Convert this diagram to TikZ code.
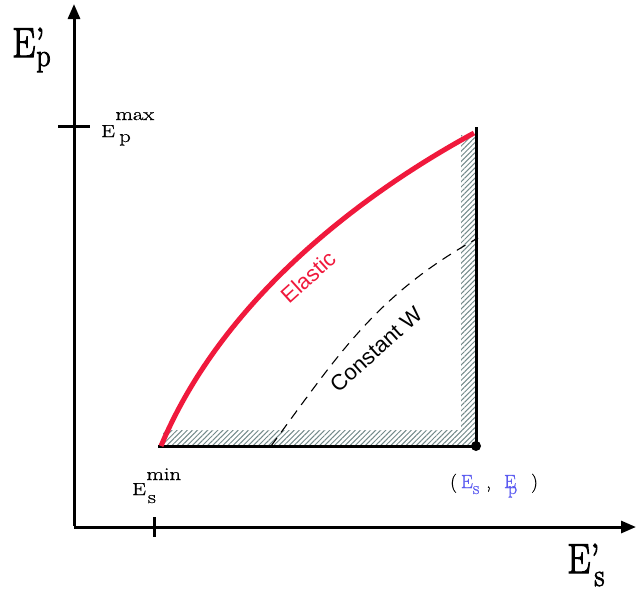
\RequirePackage{fix-cm}
\documentclass[tikz,border=0pt]{standalone}
\usepackage{fontspec}
\setmainfont{Latin Modern Roman}[FakeBold=0.8]
\newfontfamily\heavyrm{Latin Modern Roman}[FakeBold=2.5]
\newfontfamily\plotsans{Liberation Sans}
\usepackage{tikz}
\usetikzlibrary{arrows.meta,patterns.meta}
\definecolor{elasticred}{RGB}{240,25,60}
\definecolor{pointblue}{RGB}{90,90,240}
\definecolor{hatchgray}{RGB}{115,138,138}
\newcommand{\fsz}[1]{\fontsize{#1}{#1}\selectfont}

\begin{document}
\begin{tikzpicture}[x=1pt,y=-1pt,
  >={Triangle[length=15pt,width=12pt]},
  axis/.style={line width=3pt},
  edge/.style={line width=3pt},
  hatch/.style={pattern={Lines[angle=45,distance=3.6pt,line width=1pt]},
    pattern color=hatchgray},
  lbl/.style={inner sep=0pt, anchor=base west},
  curvelbl/.style={inner sep=0pt, rotate=42, font=\plotsans\fsz{22}}]

\useasboundingbox (0,0) rectangle (636,592);

% Coordinates
\coordinate (O) at (74,527);
\coordinate (xend) at (636,527);
\coordinate (yend) at (74,4);
\coordinate (emin) at (158,446);
\coordinate (corner) at (476,446);
\coordinate (top) at (476,127);
\coordinate (wstart) at (271,446);
\coordinate (wend) at (478,238);

% Hatched strips
\fill[hatch] (163,430) -- (461,430) -- (461,135) -- (475,135) -- (475,445) -- (163,445) -- cycle;

% Axes and ticks
\draw[axis,->] (O) -- (xend);
\draw[axis,->] ([yshift=1.5pt]O) -- (yend);
\draw[axis] (58,126) -- (90,126);
\draw[axis] (154,517) -- (154,537);

% Region edges
\draw[edge] (emin) -- (corner) -- (top);
\node[circle, fill, inner sep=0pt, minimum size=10pt] (point) at (corner) {};

% Curves
\draw[dash pattern=on 10pt off 7pt, line width=1.1pt] (wstart) .. controls (337,357) and (375,295) .. (wend);
\draw[elasticred, line width=5pt] (161,446) .. controls (222,300) and (360,195) .. (474,133);

% Labels
\node[lbl, font=\heavyrm] (eplbl) at (12,57)
  {\scalebox{0.88}[1]{\fsz{42}E\rlap{’}\hspace{1pt}\raisebox{-9pt}{\fsz{32}p}}};
\node[lbl, font=\heavyrm] (eslbl) at (567,573)
  {\scalebox{0.88}[1]{\fsz{42}E’\hspace{-6pt}\raisebox{-13pt}{\fsz{32}s}}};
\node[lbl] (epmax) at (101,137)
  {\scalebox{1.25}[1]{\fsz{17.5}E\hspace{0.5pt}\rlap{\raisebox{17pt}{\fsz{18}max}}\hspace{3pt}\raisebox{-5pt}{\fsz{18}p}}};
\node[lbl] (esmin) at (132,495)
  {\scalebox{1.25}[1]{\fsz{17.5}E\hspace{0.5pt}\rlap{\raisebox{15pt}{\fsz{18}min}}\hspace{1pt}\raisebox{-8pt}{\fsz{18}s}}};
\node[lbl, font=\fsz{19}] (ptlbl) at (450,488)
  {(\hspace{4pt}\textcolor{pointblue}{E\raisebox{-6pt}{\fsz{18}s}}\hspace{7pt},\hspace{13pt}\textcolor{pointblue}{E\kern-8pt\raisebox{-6pt}{\fsz{18}p}}\hspace{14pt})};
\node[curvelbl, text=elasticred] (elastic) at (308,277) {Elastic};
\node[curvelbl] (constw) at (376,349) {Constant W};

\end{tikzpicture}
\end{document}
